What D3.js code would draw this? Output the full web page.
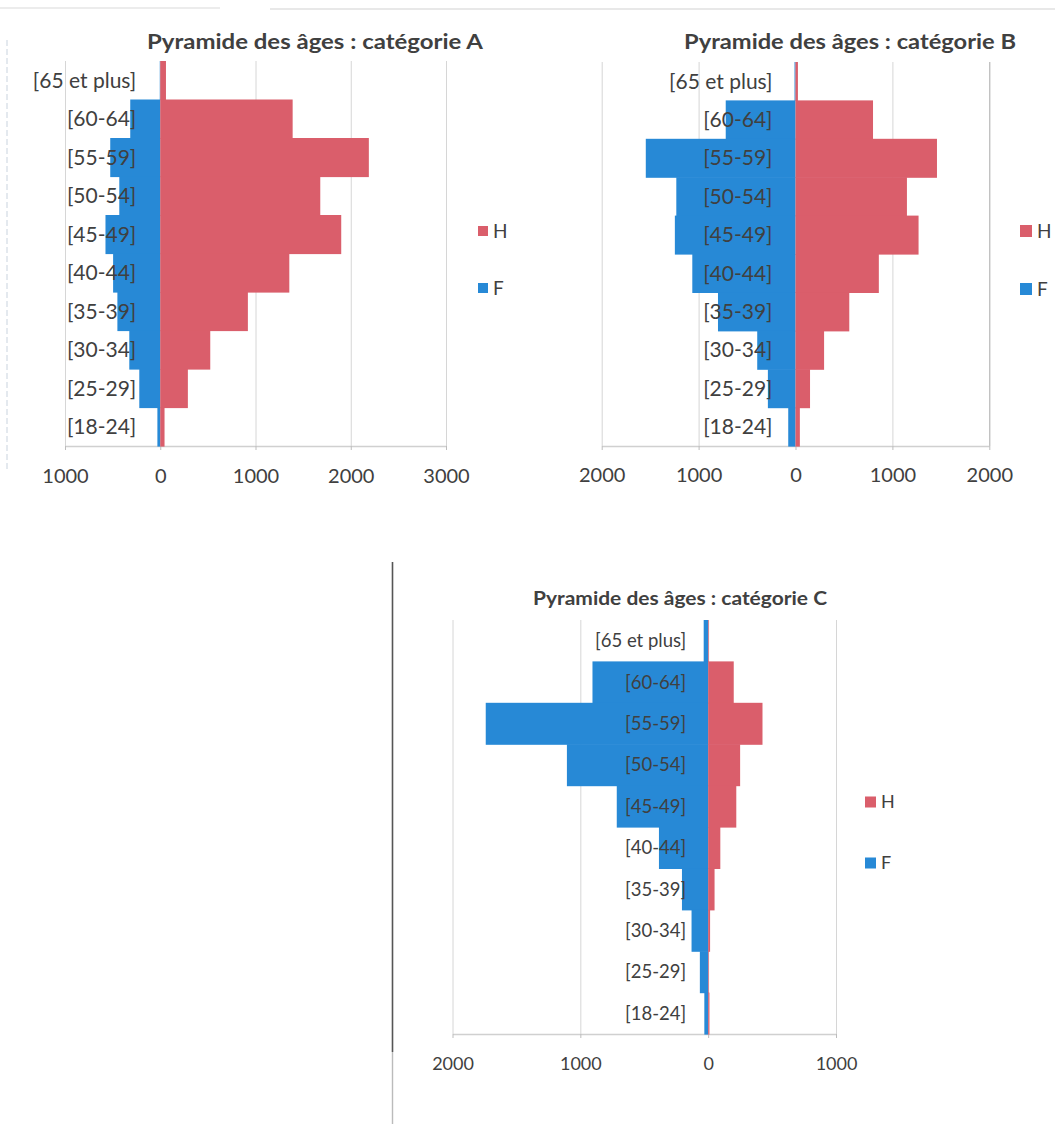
<!DOCTYPE html>
<html lang="fr">
<head>
<meta charset="utf-8">
<title>Pyramides des âges</title>
<script src="https://cdn.jsdelivr.net/npm/d3@7"></script>
<style>
  html, body { margin: 0; padding: 0; background: #ffffff; }
  svg { display: block; }
  text { font-family: Lato, "Open Sans", sans-serif; fill: #404040; }
</style>
</head>
<body>
<svg id="chart" width="1055" height="1124"></svg>
<script>
// Age bands, top of the pyramid first
const categories = ["[65 et plus]", "[60-64]", "[55-59]", "[50-54]", "[45-49]",
                    "[40-44]", "[35-39]", "[30-34]", "[25-29]", "[18-24]"];

const seriesNames = ["H", "F"];

// Catégorie A
const hommesA = [60, 1390, 2190, 1680, 1900, 1355, 920, 525, 290, 45];
const femmesA = [5, 315, 525, 430, 575, 495, 450, 325, 220, 30];
const ticksA = [-1000, 0, 1000, 2000, 3000];

// Catégorie B
const hommesB = [25, 800, 1460, 1150, 1270, 860, 555, 295, 150, 45];
const femmesB = [10, 720, 1545, 1230, 1245, 1065, 800, 395, 285, 75];
const ticksB = [-2000, -1000, 0, 1000, 2000];

// Catégorie C
const hommesC = [5, 200, 425, 250, 220, 95, 50, 15, 5, 10];
const femmesC = [35, 905, 1740, 1105, 715, 385, 205, 130, 65, 30];
const ticksC = [-2000, -1000, 0, 1000];

const colors = { H: "#da5e6b", F: "#2789d6" };

const svg = d3.select("#chart");

// faint frame edges around the panels
const frame = svg.append("g").attr("fill", "none");
frame.append("line").attr("x1", 0).attr("x2", 220).attr("y1", 8).attr("y2", 8)
  .attr("stroke", "#ececec").attr("stroke-width", 2);
frame.append("line").attr("x1", 270).attr("x2", 1055).attr("y1", 9).attr("y2", 9)
  .attr("stroke", "#e8e8e8").attr("stroke-width", 2);
frame.append("line").attr("x1", 7).attr("x2", 7).attr("y1", 40).attr("y2", 470)
  .attr("stroke", "#c9d3de").attr("stroke-width", 1).attr("stroke-dasharray", "6,3");
frame.append("line").attr("x1", 392.5).attr("x2", 392.5).attr("y1", 562).attr("y2", 1052)
  .attr("stroke", "#555555").attr("stroke-width", 1.6);
frame.append("line").attr("x1", 392.5).attr("x2", 392.5).attr("y1", 1052).attr("y2", 1124)
  .attr("stroke", "#bbbbbb").attr("stroke-width", 1.4);

function drawPyramid(cfg) {
  const g = svg.append("g");
  const x = d3.scaleLinear().domain(cfg.domain).range([cfg.left, cfg.right]);
  const y = d3.scaleBand().domain(categories).range([cfg.top, cfg.bottom]).padding(0);

  // vertical gridlines
  g.append("g").selectAll("line").data(cfg.ticks).join("line")
    .attr("x1", d => x(d) + 0.5).attr("x2", d => x(d) + 0.5)
    .attr("y1", cfg.top).attr("y2", cfg.bottom)
    .attr("stroke", d => (cfg.darkGrid && cfg.darkGrid.includes(d)) ? "#a9a9a9" : "#d6d6d6")
    .attr("stroke-width", 1);

  // value axis along the bottom
  const axis = d3.axisBottom(x).tickValues(cfg.ticks)
    .tickFormat(d => String(Math.abs(d)))
    .tickSizeInner(4).tickSizeOuter(0).tickPadding(cfg.tickPad);
  const ax = g.append("g").attr("transform", `translate(0,${cfg.bottom})`).call(axis);
  ax.select(".domain").attr("stroke", "#d0d0d0").attr("stroke-width", 1.5);
  ax.selectAll(".tick line").attr("stroke", "#bdbdbd");
  ax.selectAll(".tick text")
    .style("font-family", "Lato, sans-serif")
    .style("font-size", cfg.tickSize + "px")
    .attr("fill", "#404040");

  const rows = categories.map((c, i) => ({ cat: c, H: cfg.h[i], F: cfg.f[i] }));

  // women on the left of zero
  g.append("g").selectAll("rect").data(rows).join("rect")
    .attr("x", d => x(-d.F))
    .attr("y", d => y(d.cat))
    .attr("width", d => x(0) - x(-d.F))
    .attr("height", y.bandwidth() + 0.6)
    .attr("fill", colors.F);

  // men on the right of zero
  g.append("g").selectAll("rect").data(rows).join("rect")
    .attr("x", x(0))
    .attr("y", d => y(d.cat))
    .attr("width", d => x(d.H) - x(0))
    .attr("height", y.bandwidth() + 0.6)
    .attr("fill", colors.H);

  // age band labels, drawn over the bars
  g.append("g").selectAll("text").data(categories).join("text")
    .attr("x", x(0) - cfg.labelGap)
    .attr("y", d => y(d) + y.bandwidth() / 2)
    .attr("dy", "0.35em")
    .attr("text-anchor", "end")
    .style("font-size", cfg.catSize + "px")
    .text(d => d);

  // title, set in a wide bold face
  g.append("text")
    .attr("x", cfg.titleX).attr("y", cfg.titleY)
    .attr("text-anchor", "middle")
    .attr("textLength", cfg.titleWidth)
    .attr("lengthAdjust", "spacingAndGlyphs")
    .style("font-size", cfg.titleSize + "px")
    .style("font-weight", 700)
    .text(cfg.title);

  // legend
  const lg = g.append("g").selectAll("g").data(seriesNames).join("g")
    .attr("transform", (d, i) => `translate(${cfg.legendX},${cfg.legendY + i * cfg.legendStep})`);
  lg.append("rect").attr("x", 0).attr("y", -cfg.legendBox / 2)
    .attr("width", cfg.legendBox).attr("height", cfg.legendBox)
    .attr("fill", d => colors[d]);
  lg.append("text").attr("x", cfg.legendBox + 5).attr("y", 0).attr("dy", "0.36em")
    .style("font-size", cfg.legendSize + "px")
    .text(d => d);
}

drawPyramid({
  title: "Pyramide des âges  : catégorie A",
  h: hommesA, f: femmesA, ticks: ticksA,
  domain: [-1000, 3000], left: 65, right: 446, top: 61, bottom: 446,
  labelGap: 24, catSize: 21, tickSize: 20, tickPad: 19,
  titleX: 315, titleY: 49, titleSize: 20.5, titleWidth: 336,
  legendX: 478, legendY: 231, legendStep: 57, legendBox: 10, legendSize: 19
});

drawPyramid({
  title: "Pyramide des âges  : catégorie B",
  h: hommesB, f: femmesB, ticks: ticksB, darkGrid: [2000],
  domain: [-2000, 2000], left: 601.7, right: 989.3, top: 62, bottom: 446,
  labelGap: 23, catSize: 21, tickSize: 20, tickPad: 18,
  titleX: 850, titleY: 49, titleSize: 20.5, titleWidth: 332,
  legendX: 1020, legendY: 231, legendStep: 58, legendBox: 12, legendSize: 19
});

drawPyramid({
  title: "Pyramide des âges  : catégorie C",
  h: hommesC, f: femmesC, ticks: ticksC,
  domain: [-2000, 1000], left: 452.5, right: 836, top: 620, bottom: 1034,
  labelGap: 22, catSize: 18.5, tickSize: 18, tickPad: 19,
  titleX: 680, titleY: 605, titleSize: 18.5, titleWidth: 294,
  legendX: 865, legendY: 802, legendStep: 61, legendBox: 11, legendSize: 18
});
</script>
</body>
</html>
